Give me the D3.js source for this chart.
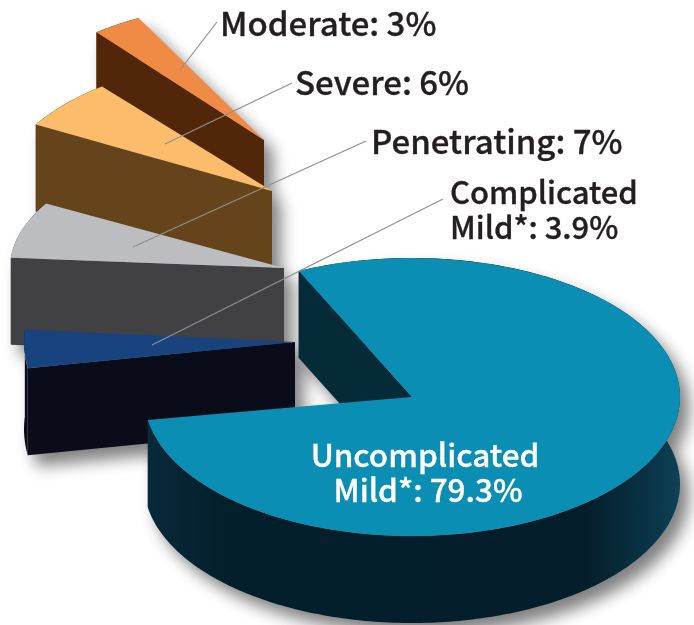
<!DOCTYPE html>
<html>
<head>
<meta charset="utf-8">
<script src="https://cdn.jsdelivr.net/npm/d3@7"></script>
<style>
  html, body { margin: 0; padding: 0; background: #fff; overflow: hidden; }
  text { font-family: "Noto Sans CJK SC", "Noto Sans", sans-serif; font-weight: 500; stroke-width: 0.35; paint-order: stroke; }
</style>
</head>
<body>
<div id="chart"></div>
<script>
// pie order, clockwise from the cut of the big slice
const categories = ["Uncomplicated Mild*", "Complicated Mild*", "Penetrating", "Severe", "Moderate"];
const values = [79.3, 3.9, 7, 6, 3];
const valueLabels = ["79.3%", "3.9%", "7%", "6%", "3%"];

const width = 694, height = 625;
const deg = Math.PI / 180;

// where each exploded slice sits on the page
const centerX = [412, 295, 284, 272, 264];
const centerY = [397, 342, 268, 191, 140];
const radiusX = [268, 271, 274, 272, 268];
const radiusY = [139, 158, 130, 134, 138];
const depth = 87;

const topColors = ["#0a8eb3", "#18437f", "#bcbdc0", "#fbbc6c", "#f08b45"];
const wallColors = ["url(#mainWall)", "#0a0c19", "#414143", "#65441b", "#522709"];
const cutColors = ["#052a38", "#0a0c19", "#414143", "#65441b", "#522709"];

const svg = d3.select("#chart")
    .append("svg")
    .attr("width", width)
    .attr("height", height);

const defs = svg.append("defs");
defs.append("filter")
    .attr("id", "blur")
    .attr("x", "-30%").attr("y", "-30%")
    .attr("width", "160%").attr("height", "160%")
    .append("feGaussianBlur")
    .attr("stdDeviation", 8);

const wallGradient = defs.append("linearGradient").attr("id", "mainWall");
wallGradient.selectAll("stop")
    .data([
        { offset: "0%", color: "#07293a" },
        { offset: "15%", color: "#041f2c" },
        { offset: "82%", color: "#041e2b" },
        { offset: "94%", color: "#0a3345" },
        { offset: "100%", color: "#0f4156" }
    ])
    .enter().append("stop")
    .attr("offset", d => d.offset)
    .attr("stop-color", d => d.color);

const total = d3.sum(values);
const pie = d3.pie()
    .sort(null)
    .startAngle(-25 * deg)
    .endAngle(-25 * deg + total / 100 * 2 * Math.PI)(values);

const slices = pie.map((p, i) => ({
    index: i,
    startAngle: p.startAngle,
    endAngle: p.endAngle,
    cx: centerX[i], cy: centerY[i], rx: radiusX[i], ry: radiusY[i]
}));

// angle on the pie -> point on the tilted ellipse
function project(s, a) {
    return [s.cx + s.rx * Math.sin(a), s.cy - s.ry * Math.cos(a)];
}

const unitArc = d3.arc().innerRadius(0).outerRadius(100);
const topPath = s => unitArc({ startAngle: s.startAngle, endAngle: s.endAngle });
const topTransform = s => `translate(${s.cx},${s.cy}) scale(${s.rx / 100},${s.ry / 100})`;

function outerWall(s) {
    const steps = d3.range(s.startAngle, s.endAngle, 1 * deg).concat(s.endAngle);
    const edge = steps.map(a => project(s, a));
    const lower = edge.map(p => [p[0], p[1] + depth]).reverse();
    return d3.line()(edge.concat(lower)) + "Z";
}

function cutWall(s, a) {
    const p = project(s, a);
    return d3.line()([[s.cx, s.cy], p, [p[0], p[1] + depth], [s.cx, s.cy + depth]]) + "Z";
}

// back to front, the shadows go under everything
const drawOrder = slices.slice().reverse();

const shadows = svg.append("g")
    .attr("filter", "url(#blur)")
    .attr("opacity", 0.5)
    .attr("transform", "translate(9,11)");

drawOrder.forEach(s => {
    shadows.append("path").attr("d", outerWall(s));
    shadows.append("path").attr("d", cutWall(s, s.startAngle));
    shadows.append("path").attr("d", cutWall(s, s.endAngle));
    shadows.append("path").attr("d", topPath(s)).attr("transform", topTransform(s));
});

drawOrder.forEach(s => {
    const g = svg.append("g");
    g.append("path").attr("d", outerWall(s)).attr("fill", wallColors[s.index]);
    g.append("path").attr("d", cutWall(s, s.startAngle)).attr("fill", cutColors[s.index]);
    g.append("path").attr("d", topPath(s)).attr("transform", topTransform(s))
        .attr("fill", topColors[s.index]);
});

// leader lines, from slice top to label
const leaders = [
    [180, 70, 217, 22],
    [165, 144, 292, 83],
    [133, 247, 366, 141],
    [152, 345, 443, 199]
];
svg.selectAll("line.leader")
    .data(leaders)
    .join("line")
    .attr("class", "leader")
    .attr("x1", d => d[0]).attr("y1", d => d[1])
    .attr("x2", d => d[2]).attr("y2", d => d[3])
    .attr("stroke", "#8f8f8f")
    .attr("stroke-width", 1.2);

const labels = [
    { lines: [`${categories[4]}: ${valueLabels[4]}`], x: 220, y: 36, size: 33 },
    { lines: [`${categories[3]}: ${valueLabels[3]}`], x: 295, y: 95, size: 33 },
    { lines: [`${categories[2]}: ${valueLabels[2]}`], x: 371, y: 154, size: 33 },
    { lines: ["Complicated", `Mild*: ${valueLabels[1]}`], x: 450, y: 204, size: 31 }
];
labels.forEach(l => {
    const t = svg.append("text")
        .attr("x", l.x).attr("y", l.y)
        .attr("fill", "#231f20")
        .attr("stroke", "#231f20")
        .attr("font-size", l.size);
    l.lines.forEach((line, i) => {
        t.append("tspan").attr("x", l.x).attr("dy", i ? 35 : 0).text(line);
    });
});

svg.append("text")
    .attr("text-anchor", "middle")
    .attr("fill", "#fff")
    .attr("stroke", "#fff")
    .attr("font-size", 31.5)
    .selectAll("tspan")
    .data(["Uncomplicated", `Mild*: ${valueLabels[0]}`])
    .join("tspan")
    .attr("x", (d, i) => i ? 428 : 425)
    .attr("y", (d, i) => i ? 502 : 467)
    .text(d => d);
</script>
</body>
</html>
